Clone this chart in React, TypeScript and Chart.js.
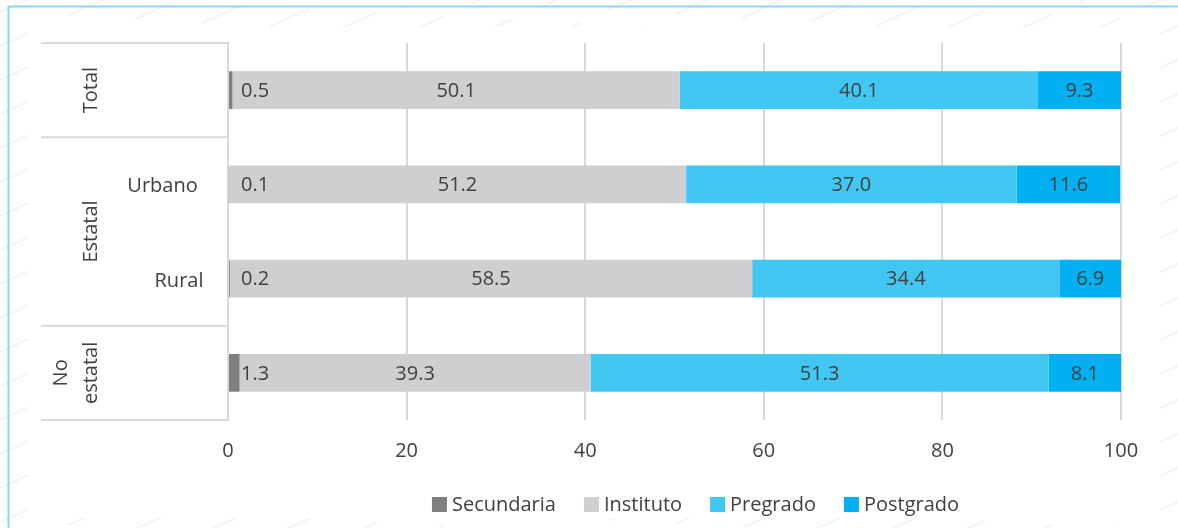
import React, { useEffect, useRef } from 'react';
import { Chart, registerables } from 'chart.js';

Chart.register(...registerables);

// ---- data ----
const categories = ['Total', 'Urbano', 'Rural', 'No estatal'];
const subLabels = ['', 'Urbano', 'Rural', ''];
const secundaria = [0.5, 0.1, 0.2, 1.3];
const instituto = [50.1, 51.2, 58.5, 39.3];
const pregrado = [40.1, 37.0, 34.4, 51.3];
const postgrado = [9.3, 11.6, 6.9, 8.1];
const seriesNames = ['Secundaria', 'Instituto', 'Pregrado', 'Postgrado'];
const seriesColors = ['#7f7f81', '#cfcfd1', '#42c7f3', '#00b0f0'];
const groups = [
  { lines: ['Total'], from: 0, to: 0 },
  { lines: ['Estatal'], from: 1, to: 2 },
  { lines: ['No', 'estatal'], from: 3, to: 3 },
];

const W = 1178;
const H = 528;
const FONT = '"Open Sans", sans-serif';
const TEXT = '#404040';
const LINE = '#d9d9d9';

const backgroundPlugin = {
  id: 'bg',
  beforeDraw(chart: any) {
    const ctx = chart.ctx;
    ctx.save();
    ctx.fillStyle = '#ffffff';
    ctx.fillRect(0, 0, W, H);
    ctx.strokeStyle = '#f5f5f5';
    ctx.lineWidth = 2.5;
    ctx.setLineDash([44, 30]);
    for (let b = -600; b < H + 700; b += 34) {
      ctx.beginPath();
      ctx.moveTo(0, b);
      ctx.lineTo(W, b - W * 0.45);
      ctx.stroke();
    }
    ctx.setLineDash([]);
    ctx.fillStyle = '#ffffff';
    ctx.fillRect(27, 27, 1133, 491);
    ctx.strokeStyle = '#8ad7f7';
    ctx.lineWidth = 2;
    ctx.beginPath();
    ctx.moveTo(W, 6.5);
    ctx.lineTo(8.5, 6.5);
    ctx.lineTo(8.5, H);
    ctx.stroke();
    ctx.restore();
  },
};

const labelsPlugin = {
  id: 'barLabels',
  afterDatasetsDraw(chart: any) {
    const ctx = chart.ctx;
    ctx.save();
    ctx.font = `20px ${FONT}`;
    ctx.fillStyle = TEXT;
    ctx.textBaseline = 'middle';
    chart.data.datasets.forEach((ds: any, i: number) => {
      const meta = chart.getDatasetMeta(i);
      meta.data.forEach((el: any, j: number) => {
        const v = ds.data[j];
        const txt = v.toFixed(1);
        if (i === 0) {
          ctx.textAlign = 'left';
          ctx.fillText(txt, el.base + 12, el.y + 1);
        } else {
          ctx.textAlign = 'center';
          ctx.fillText(txt, (el.x + el.base) / 2, el.y + 1);
        }
      });
    });
    ctx.restore();
  },
};

const axisGroupPlugin = {
  id: 'axisGroups',
  afterDraw(chart: any) {
    const ctx = chart.ctx;
    const y = chart.scales.y;
    const left = chart.chartArea.left;
    const c = categories.map((_, i) => y.getPixelForValue(i));
    const half = (c[1] - c[0]) / 2;
    ctx.save();
    ctx.strokeStyle = LINE;
    ctx.lineWidth = 2;
    const bounds = [c[0] - half];
    groups.forEach((g) => bounds.push(c[g.to] + half));
    bounds.forEach((b) => {
      ctx.beginPath();
      ctx.moveTo(41, b);
      ctx.lineTo(left, b);
      ctx.stroke();
    });
    ctx.font = `20px ${FONT}`;
    ctx.fillStyle = TEXT;
    groups.forEach((g) => {
      const cy = (c[g.from] + c[g.to]) / 2;
      ctx.save();
      ctx.translate(97, cy);
      ctx.rotate(-Math.PI / 2);
      ctx.textAlign = 'center';
      ctx.textBaseline = 'alphabetic';
      const n = g.lines.length;
      g.lines.forEach((ln, k) => {
        const off = -(n - 1 - k) * 30;
        ctx.fillText(ln, 0, off);
      });
      ctx.restore();
    });
    const subX = [0, 162.5, 179, 0];
    ctx.textAlign = 'center';
    ctx.textBaseline = 'alphabetic';
    subLabels.forEach((s, i) => {
      if (s) ctx.fillText(s, subX[i], c[i] + 8);
    });
    ctx.restore();
  },
};

const legendPlugin = {
  id: 'customLegend',
  afterDraw(chart: any) {
    const ctx = chart.ctx;
    ctx.save();
    ctx.font = `20px ${FONT}`;
    const box = 15;
    const gapText = 5;
    const gapItem = 28;
    const widths = seriesNames.map((n) => box + gapText + ctx.measureText(n).width);
    const total = widths.reduce((a, b) => a + b, 0) + gapItem * (seriesNames.length - 1);
    let x = 695.5 - total / 2;
    const cy = 505;
    seriesNames.forEach((n, i) => {
      ctx.fillStyle = seriesColors[i];
      ctx.fillRect(x, cy - 8, box, box);
      ctx.fillStyle = TEXT;
      ctx.textAlign = 'left';
      ctx.textBaseline = 'middle';
      ctx.fillText(n, x + box + gapText, cy);
      x += widths[i] + gapItem;
    });
    ctx.restore();
  },
};

export default function App() {
  const ref = useRef<HTMLCanvasElement | null>(null);
  useEffect(() => {
    document.body.style.margin = '0';
    if (!ref.current) return;
    const seriesData = [secundaria, instituto, pregrado, postgrado];
    const chart = new Chart(ref.current, {
      type: 'bar',
      data: {
        labels: categories,
        datasets: seriesNames.map((name, i) => ({
          label: name,
          data: seriesData[i],
          backgroundColor: seriesColors[i],
          borderWidth: 0,
          barPercentage: 0.4,
          categoryPercentage: 1,
        })),
      },
      options: {
        indexAxis: 'y',
        responsive: false,
        animation: false,
        events: [],
        layout: { padding: { left: 228, right: 57, top: 43, bottom: 0 } },
        plugins: {
          legend: { display: false },
          tooltip: { enabled: false },
          title: { display: false },
        },
        scales: {
          x: {
            stacked: true,
            min: 0,
            max: 100,
            ticks: {
              stepSize: 20,
              padding: 19,
              color: TEXT,
              font: { family: FONT, size: 20 },
            },
            grid: { color: LINE, lineWidth: 2, drawTicks: false },
            border: { display: false },
            afterFit: (s: any) => {
              s.height = 108;
            },
          },
          y: {
            stacked: true,
            ticks: { display: false },
            grid: { display: false },
            border: { display: true, color: LINE, width: 2 },
            afterFit: (s: any) => {
              s.width = 0;
            },
          },
        },
      },
      plugins: [backgroundPlugin, labelsPlugin, axisGroupPlugin, legendPlugin],
    });
    return () => chart.destroy();
  }, []);
  return (
    <div style={{ width: W, height: H }}>
      <canvas ref={ref} width={W} height={H} style={{ display: 'block' }} />
    </div>
  );
}
